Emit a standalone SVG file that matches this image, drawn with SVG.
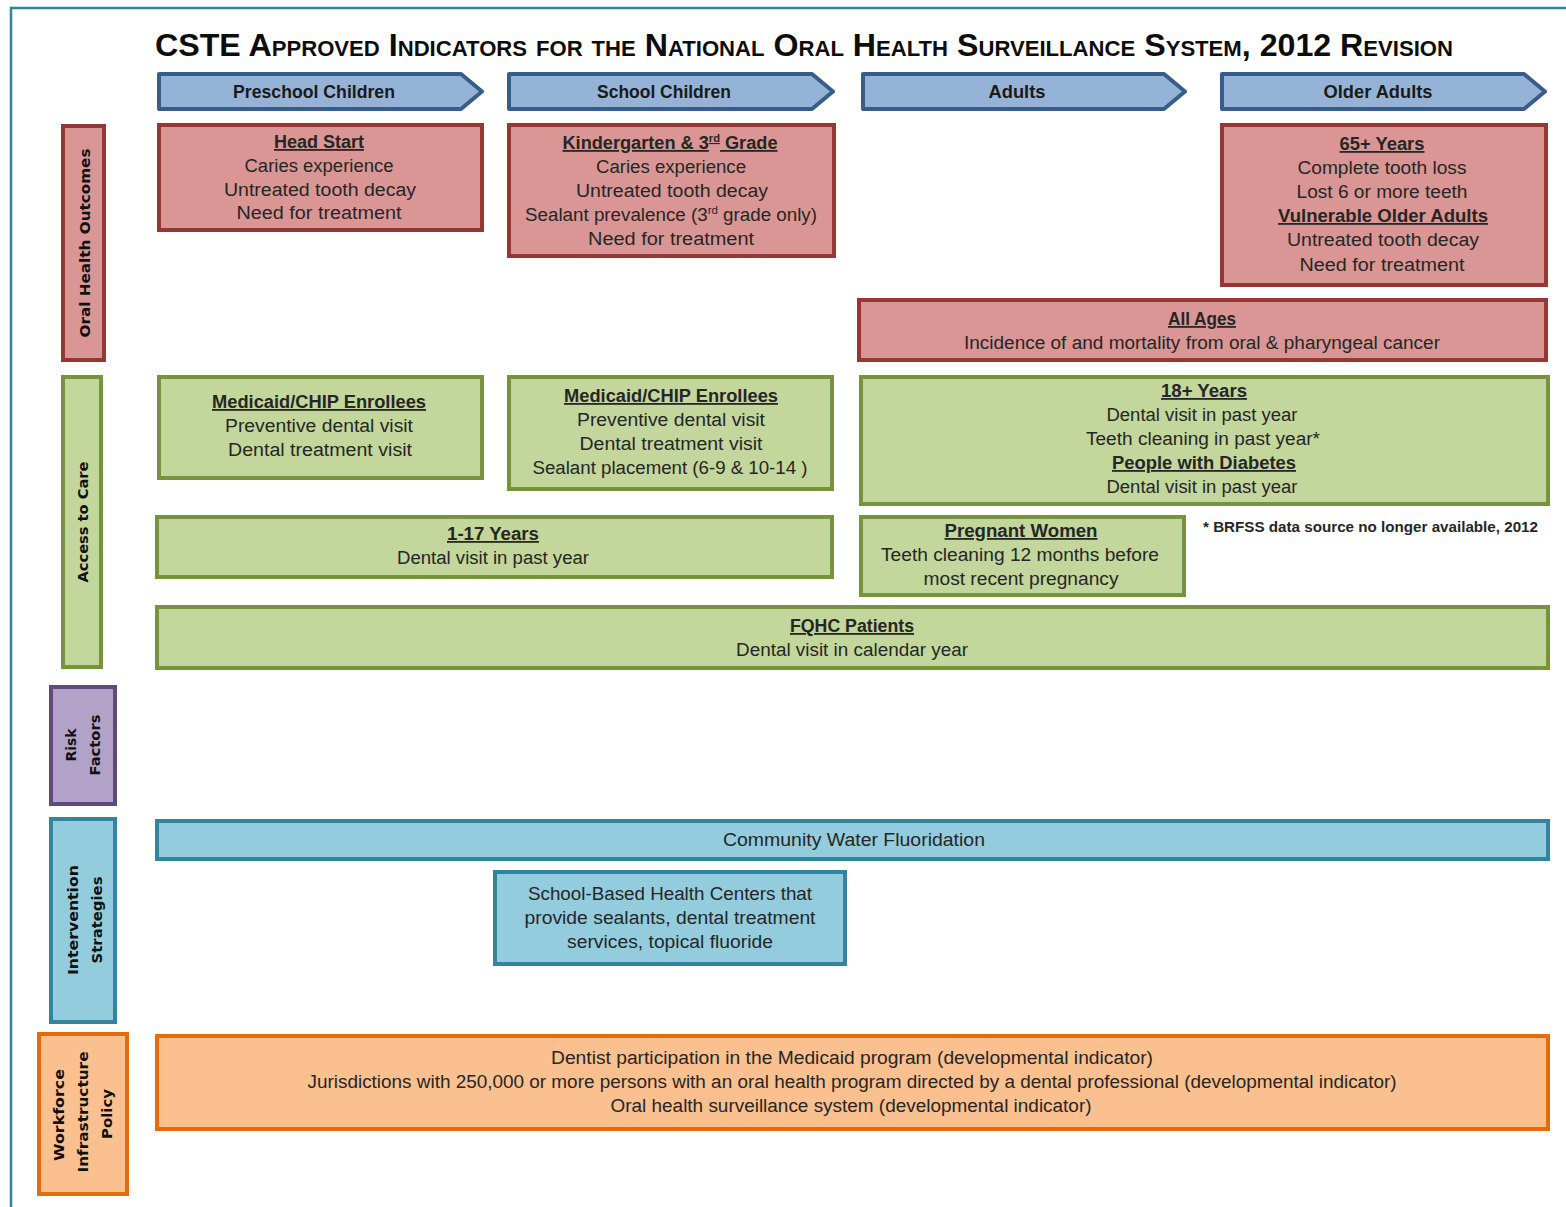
<svg xmlns="http://www.w3.org/2000/svg" width="1566" height="1207" viewBox="0 0 1566 1207">
<style>
.t{font-family:"Liberation Sans",Arial,sans-serif;font-size:18px;fill:#262626;text-anchor:middle}
.hd{font-weight:bold;text-decoration:underline}
.hb{font-family:"Liberation Sans",Arial,sans-serif;font-size:18px;font-weight:bold;fill:#1a1a1a;text-anchor:middle}
.side{font-family:"DejaVu Sans",Verdana,sans-serif;font-size:14px;font-weight:bold;fill:#111;text-anchor:middle}
.red{fill:#d99694;stroke:#953735;stroke-width:4}
.grn{fill:#c3d69b;stroke:#77933c;stroke-width:4}
.blu{fill:#93cddd;stroke:#31859c;stroke-width:4}
.org{fill:#fac08f;stroke:#e46c0a;stroke-width:4}
.pur{fill:#b3a2c7;stroke:#604a7b;stroke-width:4}
.chev{fill:#95b3d7;stroke:#385d8a;stroke-width:4;stroke-linejoin:round}
.fn{font-family:"Liberation Sans",Arial,sans-serif;font-size:14px;font-weight:bold;fill:#262626}
.ttl{font-family:"Liberation Sans",Arial,sans-serif;font-size:32px;font-weight:bold;font-variant:small-caps;fill:#0d0d0d}
</style>
<rect width="1566" height="1207" fill="#ffffff"/>
<g id="frame">
<path d="M11 1207 V8 H1566" fill="none" stroke="#31849b" stroke-width="2.5"/>
</g>
<g id="title">
<text class="ttl" x="155" y="56" textLength="1298" lengthAdjust="spacingAndGlyphs">CSTE Approved Indicators for the National Oral Health Surveillance System, 2012 Revision</text>
</g>
<g id="hdr-preschool">
<polygon class="chev" points="159,74 461,74 482,91.5 461,109 159,109"/>
<text class="hb" x="314" y="98" textLength="162" lengthAdjust="spacingAndGlyphs">Preschool Children</text>
</g>
<g id="hdr-school">
<polygon class="chev" points="509,74 812,74 833,91.5 812,109 509,109"/>
<text class="hb" x="664" y="98" textLength="134" lengthAdjust="spacingAndGlyphs">School Children</text>
</g>
<g id="hdr-adults">
<polygon class="chev" points="863,74 1164,74 1185,91.5 1164,109 863,109"/>
<text class="hb" x="1017" y="98" textLength="57" lengthAdjust="spacingAndGlyphs">Adults</text>
</g>
<g id="hdr-older">
<polygon class="chev" points="1222,74 1524,74 1545,91.5 1524,109 1222,109"/>
<text class="hb" x="1378" y="98" textLength="109" lengthAdjust="spacingAndGlyphs">Older Adults</text>
</g>
<g id="side-oho">
<rect class="red" x="63" y="126" width="41" height="234"/>
<text class="side" transform="translate(90,243) rotate(-90)" x="0" y="0" textLength="189" lengthAdjust="spacingAndGlyphs">Oral Health Outcomes</text>
</g>
<g id="side-access">
<rect class="grn" x="63" y="377" width="38" height="290"/>
<text class="side" transform="translate(88,522) rotate(-90)" x="0" y="0" textLength="121" lengthAdjust="spacingAndGlyphs">Access to Care</text>
</g>
<g id="side-risk">
<rect class="pur" x="51" y="687" width="64" height="117"/>
<text class="side" transform="translate(76,745) rotate(-90)" x="0" y="0" textLength="33" lengthAdjust="spacingAndGlyphs">Risk</text>
<text class="side" transform="translate(100,745) rotate(-90)" x="0" y="0" textLength="61" lengthAdjust="spacingAndGlyphs">Factors</text>
</g>
<g id="side-intervention">
<rect class="blu" x="51" y="819" width="64" height="203"/>
<text class="side" transform="translate(78,920) rotate(-90)" x="0" y="0" textLength="110" lengthAdjust="spacingAndGlyphs">Intervention</text>
<text class="side" transform="translate(102,920) rotate(-90)" x="0" y="0" textLength="87" lengthAdjust="spacingAndGlyphs">Strategies</text>
</g>
<g id="side-workforce">
<rect class="org" x="39" y="1034" width="88" height="160"/>
<text class="side" transform="translate(64,1115) rotate(-90)" x="0" y="0" textLength="92" lengthAdjust="spacingAndGlyphs">Workforce</text>
<text class="side" transform="translate(88,1112) rotate(-90)" x="0" y="0" textLength="121" lengthAdjust="spacingAndGlyphs">Infrastructure</text>
<text class="side" transform="translate(112,1114) rotate(-90)" x="0" y="0" textLength="50" lengthAdjust="spacingAndGlyphs">Policy</text>
</g>
<g id="node-headstart">
<rect class="red" x="159" y="125" width="323" height="105"/>
<text class="t hd" x="319" y="148" textLength="90" lengthAdjust="spacingAndGlyphs">Head Start</text>
<text class="t" x="319" y="172" textLength="149" lengthAdjust="spacingAndGlyphs">Caries experience</text>
<text class="t" x="320" y="196" textLength="192" lengthAdjust="spacingAndGlyphs">Untreated tooth decay</text>
<text class="t" x="319" y="219" textLength="165" lengthAdjust="spacingAndGlyphs">Need for treatment</text>
</g>
<g id="node-kinder">
<rect class="red" x="509" y="125" width="325" height="131"/>
<text class="t hd" x="670" y="149" textLength="215" lengthAdjust="spacingAndGlyphs">Kindergarten &amp; 3<tspan font-size="11" dy="-7">rd</tspan><tspan dy="7"> Grade</tspan></text>
<text class="t" x="671" y="173" textLength="150" lengthAdjust="spacingAndGlyphs">Caries experience</text>
<text class="t" x="672" y="197" textLength="192" lengthAdjust="spacingAndGlyphs">Untreated tooth decay</text>
<text class="t" x="671" y="221" textLength="292" lengthAdjust="spacingAndGlyphs">Sealant prevalence (3<tspan font-size="11" dy="-7">rd</tspan><tspan dy="7"> grade only)</tspan></text>
<text class="t" x="671" y="245" textLength="166" lengthAdjust="spacingAndGlyphs">Need for treatment</text>
</g>
<g id="node-65">
<rect class="red" x="1222" y="125" width="324" height="160"/>
<text class="t hd" x="1382" y="150" textLength="85" lengthAdjust="spacingAndGlyphs">65+ Years</text>
<text class="t" x="1382" y="174" textLength="169" lengthAdjust="spacingAndGlyphs">Complete tooth loss</text>
<text class="t" x="1382" y="198" textLength="171" lengthAdjust="spacingAndGlyphs">Lost 6 or more teeth</text>
<text class="t hd" x="1383" y="222" textLength="210" lengthAdjust="spacingAndGlyphs">Vulnerable Older Adults</text>
<text class="t" x="1383" y="246" textLength="192" lengthAdjust="spacingAndGlyphs">Untreated tooth decay</text>
<text class="t" x="1382" y="271" textLength="165" lengthAdjust="spacingAndGlyphs">Need for treatment</text>
</g>
<g id="node-allages">
<rect class="red" x="859" y="300" width="687" height="60"/>
<text class="t hd" x="1202" y="325" textLength="68" lengthAdjust="spacingAndGlyphs">All Ages</text>
<text class="t" x="1202" y="349" textLength="476" lengthAdjust="spacingAndGlyphs">Incidence of and mortality from oral &amp; pharyngeal cancer</text>
</g>
<g id="node-medicaid-pre">
<rect class="grn" x="159" y="377" width="323" height="101"/>
<text class="t hd" x="319" y="408" textLength="214" lengthAdjust="spacingAndGlyphs">Medicaid/CHIP Enrollees</text>
<text class="t" x="319" y="432" textLength="188" lengthAdjust="spacingAndGlyphs">Preventive dental visit</text>
<text class="t" x="320" y="456" textLength="184" lengthAdjust="spacingAndGlyphs">Dental treatment visit</text>
</g>
<g id="node-medicaid-school">
<rect class="grn" x="509" y="377" width="323" height="112"/>
<text class="t hd" x="671" y="402" textLength="214" lengthAdjust="spacingAndGlyphs">Medicaid/CHIP Enrollees</text>
<text class="t" x="671" y="426" textLength="188" lengthAdjust="spacingAndGlyphs">Preventive dental visit</text>
<text class="t" x="671" y="450" textLength="183" lengthAdjust="spacingAndGlyphs">Dental treatment visit</text>
<text class="t" x="670" y="474" textLength="275" lengthAdjust="spacingAndGlyphs">Sealant placement (6-9 &amp; 10-14 )</text>
</g>
<g id="node-18">
<rect class="grn" x="861" y="377" width="687" height="127"/>
<text class="t hd" x="1204" y="397" textLength="86" lengthAdjust="spacingAndGlyphs">18+ Years</text>
<text class="t" x="1202" y="421" textLength="191" lengthAdjust="spacingAndGlyphs">Dental visit in past year</text>
<text class="t" x="1203" y="445" textLength="234" lengthAdjust="spacingAndGlyphs">Teeth cleaning in past year*</text>
<text class="t hd" x="1204" y="469" textLength="184" lengthAdjust="spacingAndGlyphs">People with Diabetes</text>
<text class="t" x="1202" y="493" textLength="191" lengthAdjust="spacingAndGlyphs">Dental visit in past year</text>
</g>
<g id="node-1-17">
<rect class="grn" x="157" y="517" width="675" height="60"/>
<text class="t hd" x="493" y="540" textLength="92" lengthAdjust="spacingAndGlyphs">1-17 Years</text>
<text class="t" x="493" y="564" textLength="192" lengthAdjust="spacingAndGlyphs">Dental visit in past year</text>
</g>
<g id="node-pregnant">
<rect class="grn" x="861" y="517" width="323" height="78"/>
<text class="t hd" x="1021" y="537" textLength="153" lengthAdjust="spacingAndGlyphs">Pregnant Women</text>
<text class="t" x="1020" y="561" textLength="278" lengthAdjust="spacingAndGlyphs">Teeth cleaning 12 months before</text>
<text class="t" x="1021" y="585" textLength="195" lengthAdjust="spacingAndGlyphs">most recent pregnancy</text>
</g>
<g id="footnote">
<text class="fn" x="1203" y="532" textLength="335" lengthAdjust="spacingAndGlyphs">* BRFSS data source no longer available, 2012</text>
</g>
<g id="node-fqhc">
<rect class="grn" x="157" y="607" width="1391" height="61"/>
<text class="t hd" x="852" y="632" textLength="124" lengthAdjust="spacingAndGlyphs">FQHC Patients</text>
<text class="t" x="852" y="656" textLength="232" lengthAdjust="spacingAndGlyphs">Dental visit in calendar year</text>
</g>
<g id="node-cwf">
<rect class="blu" x="157" y="821" width="1391" height="38"/>
<text class="t" x="854" y="846" textLength="262" lengthAdjust="spacingAndGlyphs">Community Water Fluoridation</text>
</g>
<g id="node-sbhc">
<rect class="blu" x="495" y="872" width="350" height="92"/>
<text class="t" x="670" y="900" textLength="284" lengthAdjust="spacingAndGlyphs">School-Based Health Centers  that</text>
<text class="t" x="670" y="924" textLength="291" lengthAdjust="spacingAndGlyphs">provide sealants, dental treatment</text>
<text class="t" x="670" y="948" textLength="206" lengthAdjust="spacingAndGlyphs">services, topical fluoride</text>
</g>
<g id="node-workforce">
<rect class="org" x="157" y="1036" width="1391" height="93"/>
<text class="t" x="852" y="1064" textLength="602" lengthAdjust="spacingAndGlyphs">Dentist participation in the Medicaid program (developmental indicator)</text>
<text class="t" x="852" y="1088" textLength="1089" lengthAdjust="spacingAndGlyphs">Jurisdictions with 250,000 or more persons with an oral health program directed by a dental professional (developmental indicator)</text>
<text class="t" x="851" y="1112" textLength="481" lengthAdjust="spacingAndGlyphs">Oral health surveillance system (developmental indicator)</text>
</g>
<g id="connectors"></g>
</svg>
